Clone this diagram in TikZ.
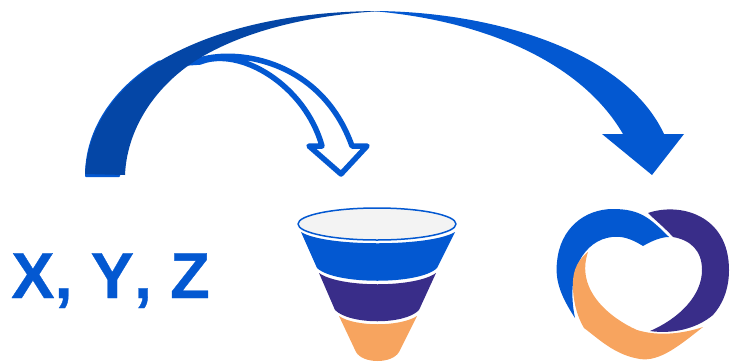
\documentclass[tikz,border=0pt]{standalone}
\usepackage{fontspec}
\usepackage{xcolor}
\usetikzlibrary{arrows.meta, positioning, calc}
\setmainfont[Kerning=Off, BoldFeatures={FakeBold=0.5}]{Liberation Sans}
\definecolor{BrandBlue}{HTML}{0358D1}
\definecolor{DeepBlue}{HTML}{0446A6}
\definecolor{RoyalPurple}{HTML}{392D89}
\definecolor{SoftOrange}{HTML}{F7A45F}
\definecolor{PaleGray}{HTML}{F3F3F3}

\begin{document}
\begin{tikzpicture}[x=1pt, y=-1pt, line join=round]
        \useasboundingbox (0,0) rectangle (730,362);
        % Outlined arrow to the funnel
        \draw [BrandBlue, line width=5.5pt, fill=white]
            (172,64) -- (200,60) .. controls (240,48) and (322,62) .. (352,146)
            -- (367,146) -- (341,174) -- (309,146) -- (322,146)
            .. controls (305,85) and (240,46) .. (200,62) -- (172,64);
        % Big arrow, right part
        \fill [BrandBlue] (372,11) .. controls (490,11) and (625,50) .. (664,134)
            -- (684,134) -- (652,175) -- (602,134) -- (623,134)
            .. controls (580,60) and (480,20) .. (372,11) -- cycle;
        % Big arrow, left part
        \fill [BrandBlue, rounded corners=1pt] (85,177) .. controls (85,120) and (125,80) .. (160,60)
            -- (175,70) .. controls (140,100) and (122,140) .. (120,177) -- cycle;
        \fill [DeepBlue] (85,174) .. controls (88,125) and (118,85) .. (165,58)
            .. controls (230,22) and (310,11) .. (382,11)
            .. controls (310,15) and (250,30) .. (205,55)
            .. controls (160,80) and (127,125) .. (125,175) -- cycle;
        % Funnel
        \draw [BrandBlue, fill=PaleGray, line width=1.5pt] (377,224) ellipse [x radius=79, y radius=16];
        \fill [BrandBlue] (301,232) .. controls (325,247) and (430,247) .. (455,232)
            -- (437,268) .. controls (420,285) and (335,285) .. (317,268) -- cycle;
        \fill [RoyalPurple] (319,273) .. controls (340,288) and (415,288) .. (436,273)
            -- (419,310) .. controls (405,325) and (350,325) .. (335,310) -- cycle;
        \fill [SoftOrange] (339,316) .. controls (355,327) and (400,327) .. (417,316)
            -- (399,352) .. controls (392,364) and (363,364) .. (356,352) -- cycle;
        % Heart
        \fill [BrandBlue] (575,318) .. controls (560,295) and (555,280) .. (557,262)
            .. controls (560,228) and (585,209) .. (613,209)
            .. controls (640,209) and (650,218) .. (669,237)
            .. controls (660,237) and (650,242) .. (643,246)
            .. controls (630,238) and (622,236) .. (612,237)
            .. controls (585,240) and (565,270) .. (575,318) -- cycle;
        \fill [RoyalPurple] (648,213) .. controls (680,202) and (729,215) .. (729,270)
            .. controls (729,290) and (722,305) .. (713,315)
            .. controls (695,330) and (670,334) .. (650,331)
            .. controls (680,318) and (702,295) .. (702,270)
            .. controls (702,250) and (690,240) .. (673,237)
            .. controls (665,228) and (655,220) .. (648,213) -- cycle;
        \fill [SoftOrange] (588,252) .. controls (575,262) and (572,275) .. (573,290)
            .. controls (574,305) and (578,318) .. (584,328)
            .. controls (600,340) and (615,355) .. (640,359)
            .. controls (660,362) and (680,345) .. (703,327)
            .. controls (685,333) and (660,337) .. (637,330)
            .. controls (610,318) and (575,290) .. (588,252) -- cycle;
        % Variables
        \node (vars) [anchor=base west, inner sep=0pt, BrandBlue,
            font=\fontsize{65}{65}\selectfont\bfseries] at (11,298) {X, Y, Z};
    \end{tikzpicture}
\end{document}
